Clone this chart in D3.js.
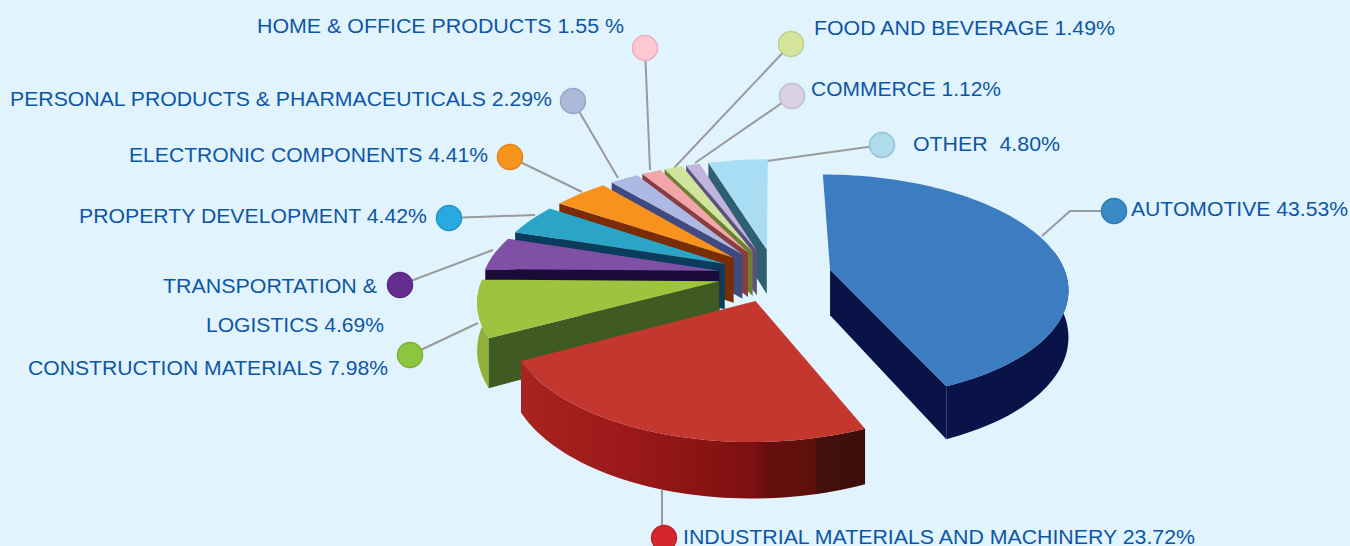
<!DOCTYPE html>
<html>
<head>
<meta charset="utf-8">
<script src="https://cdn.jsdelivr.net/npm/d3@7/dist/d3.min.js"></script>
<style>
html,body{margin:0;padding:0;background:#e1f3fd;overflow:hidden}
svg{display:block}
text{font-family:"Liberation Sans",Arial,sans-serif;font-size:20.5px;fill:#0d56a6}
</style>
</head>
<body>
<script>
// ---- data ----
const categories = ["AUTOMOTIVE","INDUSTRIAL MATERIALS AND MACHINERY","CONSTRUCTION MATERIALS","TRANSPORTATION & LOGISTICS","PROPERTY DEVELOPMENT","ELECTRONIC COMPONENTS","PERSONAL PRODUCTS & PHARMACEUTICALS","HOME & OFFICE PRODUCTS","FOOD AND BEVERAGE","COMMERCE","OTHER"];
const values = [43.53,23.72,7.98,4.69,4.42,4.41,2.29,1.55,1.49,1.12,4.80];
const labelText = [
  ["AUTOMOTIVE 43.53%"],
  ["INDUSTRIAL MATERIALS AND MACHINERY 23.72%"],
  ["CONSTRUCTION MATERIALS 7.98%"],
  ["TRANSPORTATION &","LOGISTICS 4.69%"],
  ["PROPERTY DEVELOPMENT 4.42%"],
  ["ELECTRONIC COMPONENTS 4.41%"],
  ["PERSONAL PRODUCTS & PHARMACEUTICALS 2.29%"],
  ["HOME & OFFICE PRODUCTS 1.55 %"],
  ["FOOD AND BEVERAGE 1.49%"],
  ["COMMERCE 1.12%"],
  ["OTHER  4.80%"]
];
// ---- style ----
const topColors  = ["#3c7cc0","#c4372e","#9dc33f","#7f50a6","#2aa5c8","#f7921f","#abb9e3","#f3a5a9","#d0e49b","#c2b3dc","#a8ddf4"];
const cutColors  = ["#0a1347","#5a100d","#3f5a22","#1a0b38","#0a3c5c","#7a2c06","#3f4b80","#8a3c40","#6d8030","#5d5080","#2f6072"];
const wallColors = ["#0a1347",null,"#92b039","#5c3a80","#1a7a98","#b0600e","#7d89b0","#b87a7d","#a3b472","#8f80a8","#5a9ab0"];
const dotFill    = ["#3a8bc5","#d4262b","#8cc63f","#662d91","#27aae1","#f7941e","#adb9d9","#fcc8d2","#d7e59c","#d9d2e6","#aedcea"];
const dotStroke  = ["#2f7aae","#c02228","#7cb035","#5a2a82","#2096c8","#e08518","#97a5c8","#e8b0bc","#c0d088","#c4bcd4","#93c4d4"];
// ---- annotation layout ----
const leaders = [
  [[1042,236],[1070,211],[1114,211]],
  [[662,490],[662,538]],
  [[478,323],[410,355]],
  [[493,250],[400,285]],
  [[535,215],[449,218]],
  [[582,192],[510,157]],
  [[618,178],[573,101]],
  [[650,170],[645,48]],
  [[674,168],[791,44]],
  [[695,163],[792,96]],
  [[767,161],[882,145]]
];
const dotAt = [[1114,211],[664,538],[410,355],[400,285],[449,218],[510,157],[573,101],[645,48],[791,44],[792,96],[882,145]];
const labelAt = [ // x, baseline, width for each line
  [[1131,216,217]],
  [[683,544,512]],
  [[28,375,360]],
  [[163,293,214],[206,332,178]],
  [[79,223,348]],
  [[129,162,359]],
  [[10,106,542]],
  [[257,33,367]],
  [[814,35,301]],
  [[811,96,190]],
  [[913,151,147]]
];

const W = 1350, H = 546;
const svg = d3.select("body").append("svg").attr("width",W).attr("height",H);
svg.append("rect").attr("width",W).attr("height",H).attr("fill","#e1f3fd");

// ground-plane scales: unit pie radius -> screen
const xS = d3.scaleLinear().domain([-1,1]).range([539,1011]);
const yS = d3.scaleLinear().domain([-1,1]).range([164,386]);
const persp = 0.151, explode = 0.24, depth = 46;
function project(u,v,z){
  const w = 1/(1-persp*v);
  return [xS(u*w), yS(v*w)+z*depth*w];
}
const arcs = d3.pie().sort(null).value(d=>d).startAngle(0).endAngle(2*Math.PI)(values);
const line = d3.line();
const closed = d3.line().curve(d3.curveLinearClosed);

function geom(a){
  const m = (a.startAngle+a.endAngle)/2;
  const cx = explode*Math.sin(m), cy = -explode*Math.cos(m);
  const n = Math.max(6,Math.ceil((a.endAngle-a.startAngle)/0.03));
  const angles = d3.range(n+1).map(i=>a.startAngle+(a.endAngle-a.startAngle)*i/n);
  const rim = angles.map(t=>[cx+Math.sin(t), cy-Math.cos(t)]);
  // only the part of the rim that faces the viewer gets a wall
  const front = angles.map((t,i)=>[t,i]).filter(d=>Math.cos(d[0])<0.2).map(d=>rim[d[1]]);
  return {apex:[cx,cy],rim,front};
}

const defs = svg.append("defs");
const wallGrad = defs.append("linearGradient").attr("id","wallInd")
  .attr("gradientUnits","userSpaceOnUse").attr("x1",520).attr("x2",863).attr("y1",0).attr("y2",0);
[[0,"#a82421"],[0.35,"#991818"],[0.68,"#7d1010"],[0.72,"#650f0e"],[0.86,"#5e100d"],[0.865,"#45100b"],[1,"#3c0f0a"]]
  .forEach(s=>wallGrad.append("stop").attr("offset",s[0]).attr("stop-color",s[1]));

// leaders sit behind the slices
svg.append("g").selectAll("path").data(leaders).join("path")
  .attr("d",d=>line(d)).attr("fill","none").attr("stroke","#999a9b").attr("stroke-width",2);

const order = d3.range(values.length).sort((a,b)=>b-a);
const g = svg.append("g");
order.forEach(i=>{
  const a = arcs[i], s = g.append("g"), q = geom(a);
  const top = q.rim.map(p=>project(p[0],p[1],0));
  const bot = q.rim.map(p=>project(p[0],p[1],1));
  const apT = project(q.apex[0],q.apex[1],0), apB = project(q.apex[0],q.apex[1],1);
  // rim wall
  if(q.front.length>1){
    const fT = q.front.map(p=>project(p[0],p[1],0));
    const fB = q.front.map(p=>project(p[0],p[1],1));
    s.append("path").attr("d",closed(fT.concat(fB.reverse())))
      .attr("fill",wallColors[i]||"url(#wallInd)");
  }
  // cut faces facing the viewer
  if(Math.sin(a.startAngle)<-1e-6)
    s.append("path").attr("d",closed([apT,top[0],bot[0],apB])).attr("fill",cutColors[i]);
  if(Math.sin(a.endAngle)>1e-6)
    s.append("path").attr("d",closed([apT,top[top.length-1],bot[bot.length-1],apB])).attr("fill",cutColors[i]);
  // top
  s.append("path").attr("d",closed([apT].concat(top))).attr("fill",topColors[i]);
});

// markers
svg.append("g").selectAll("circle").data(dotAt).join("circle")
  .attr("cx",d=>d[0]).attr("cy",d=>d[1]).attr("r",12.5)
  .attr("fill",(d,i)=>dotFill[i]).attr("stroke",(d,i)=>dotStroke[i]).attr("stroke-width",1.5);

// labels
const tg = svg.append("g");
labelText.forEach((lines,i)=>lines.forEach((t,j)=>{
  const p = labelAt[i][j];
  tg.append("text").attr("x",p[0]).attr("y",p[1]).attr("xml:space","preserve")
    .attr("textLength",p[2]).attr("lengthAdjust","spacingAndGlyphs").text(t);
}));
</script>
</body>
</html>
